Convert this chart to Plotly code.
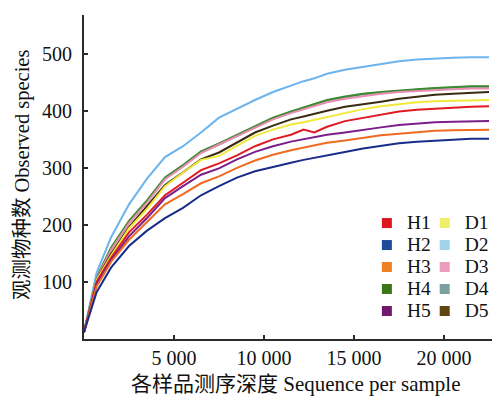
import plotly.graph_objects as go

# Sequencing depth (x) shared by all curves
depth = [0, 700, 1500, 2500, 3500, 4500, 5500, 6500, 7500, 8500, 9500, 10500,
         11500, 12200, 12800, 13500, 14500, 15500, 16500, 17500, 18500, 19500,
         20500, 21500, 22500]

H1 = [12, 100, 142, 187, 218, 252, 274, 296, 308, 322, 338, 350, 358, 367, 362,
      372, 382, 388, 394, 399, 402, 404, 406, 407, 408]
H2 = [12, 82, 125, 163, 190, 212, 230, 252, 268, 283, 294, 302, 309, 314, 318,
      322, 328, 334, 339, 343, 346, 348, 350, 351, 351]
H3 = [12, 92, 135, 174, 205, 236, 254, 273, 285, 300, 313, 323, 331, 336, 340,
      344, 348, 353, 357, 360, 363, 365, 366, 367, 367]
H4 = [12, 108, 160, 207, 243, 283, 305, 329, 343, 358, 374, 388, 399, 406, 412,
      419, 425, 430, 433, 436, 438, 440, 442, 443, 443]
H5 = [12, 96, 138, 180, 212, 247, 268, 288, 299, 315, 328, 338, 346, 350, 354,
      358, 362, 367, 371, 375, 378, 380, 381, 382, 382]
D1 = [12, 103, 146, 194, 228, 268, 292, 314, 321, 338, 356, 367, 376, 380, 384,
      389, 395, 403, 408, 412, 415, 417, 418, 419, 419]
D2 = [12, 116, 178, 236, 281, 319, 338, 362, 388, 404, 419, 433, 444, 452, 457,
      465, 472, 477, 482, 487, 490, 492, 493, 494, 494]
D3 = [12, 106, 156, 203, 239, 280, 302, 326, 341, 356, 371, 385, 396, 403, 409,
      415, 421, 426, 430, 433, 435, 437, 438, 439, 439]
D4 = [12, 107, 158, 204, 241, 281, 303, 327, 341, 356, 372, 386, 397, 405, 411,
      418, 424, 429, 432, 435, 437, 439, 441, 442, 442]
D5 = [12, 104, 149, 196, 233, 270, 292, 315, 327, 344, 362, 374, 385, 390, 394,
      400, 407, 411, 416, 421, 425, 428, 430, 432, 433]

names = ["H1", "H2", "H3", "H4", "H5", "D1", "D2", "D3", "D4", "D5"]
series = [H1, H2, H3, H4, H5, D1, D2, D3, D4, D5]
line_colors = ["#e01a22", "#1a2c8a", "#f06a20", "#3a8a30", "#7a1e8a",
               "#f2e83a", "#6cb4ee", "#ea8cb0", "#6a9c9c", "#3a2a10"]
legend_colors = ["#e0141e", "#1f4a9a", "#ee7f22", "#3a7518", "#72176e",
                 "#eeee6a", "#a2d3ea", "#eb9cbd", "#7aa0a0", "#5e4511"]

x_tick_vals = [5000, 10000, 15000, 20000]
x_tick_text = ["5 000", "10 000", "15 000", "20 000"]
y_max = 568
y_tick_vals = [100, 200, 300, 400, 500, y_max]
y_tick_text = ["100", "200", "300", "400", "500", ""]
x_title = "各样品测序深度 Sequence per sample"
y_title = "观测物种数 Observed species"

FONT = "Liberation Serif, Times New Roman, Noto Sans CJK SC, serif"

fig = go.Figure()
draw_order = [8, 3, 7, 6, 9, 5, 0, 4, 2, 1]
for i in draw_order:
    fig.add_trace(go.Scatter(x=depth, y=series[i], mode="lines",
                             line=dict(color=line_colors[i], width=2),
                             showlegend=False, hoverinfo="skip"))
for i, n in enumerate(names):
    fig.add_trace(go.Scatter(x=[None], y=[None], mode="markers",
                             name=f'<span style="font-size:19.5px">{n}</span>',
                             marker=dict(symbol="square", size=10,
                                         color=legend_colors[i]),
                             legend="legend" if i < 5 else "legend2"))

axis_common = dict(showline=True, linecolor="#2b2b2b", linewidth=2,
                   ticks="inside", ticklen=4, tickwidth=1.5, tickcolor="#2b2b2b",
                   showgrid=False, zeroline=False, automargin=False,
                   tickfont=dict(family=FONT, size=20, color="#111"))

legend_common = dict(xanchor="left", yanchor="middle", y=0.222,
                     bgcolor="rgba(0,0,0,0)",
                     font=dict(family=FONT, size=14.6, color="#111"),
                     tracegroupgap=0, itemwidth=30)

# The page body has an 8px margin, so the figure is 8px smaller than the
# 500x397 window and sits at (8, 8).
fig.update_layout(
    width=492, height=389,
    margin=dict(l=76, r=0, t=7, b=58),
    paper_bgcolor="white", plot_bgcolor="white",
    font=dict(family=FONT, color="#111"),
    xaxis=dict(range=[0, 23111], tickvals=x_tick_vals, ticktext=x_tick_text,
               **axis_common),
    yaxis=dict(range=[0, y_max], tickvals=y_tick_vals, ticktext=y_tick_text,
               ticklabelstandoff=6, **axis_common),
    legend=dict(x=0.680, **legend_common),
    legend2=dict(x=0.819, **legend_common),
    annotations=[
        dict(text=x_title, xref="paper", yref="paper", x=0.51, y=0,
             xanchor="center", yanchor="middle", yshift=-45, showarrow=False,
             font=dict(family=FONT, size=21, color="#111")),
        dict(text=y_title, xref="paper", yref="paper", x=0, y=0.506,
             xanchor="center", yanchor="middle", xshift=-62, showarrow=False,
             textangle=-90, font=dict(family=FONT, size=20.5, color="#111")),
    ],
)

fig.write_html("out.html")
